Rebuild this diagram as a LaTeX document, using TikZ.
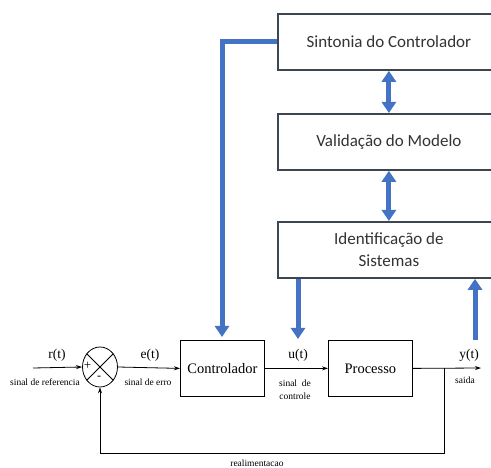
\documentclass[tikz,border=0pt]{standalone}
\usepackage{fontspec}
\setmainfont{Liberation Serif}
\newfontfamily\boxfont{Carlito}
\usetikzlibrary{arrows.meta,shapes.geometric}
\definecolor{officeblue}{HTML}{4472C4}
\definecolor{boxedge}{HTML}{3B4651}
\definecolor{boxtext}{HTML}{333333}
\begin{document}
\begin{tikzpicture}[x=1pt,y=-1pt,
  topbox/.style={draw=boxedge,line width=1.8pt,fill=white,rectangle,anchor=north west,
    minimum width=222pt,minimum height=56pt,inner sep=0pt,align=center,
    font=\boxfont\fontsize{17}{21}\selectfont,text=boxtext},
  blueline/.style={draw=officeblue,line width=5pt},
  bluetip/.style={blueline,-{Triangle[width=14pt,length=11pt]}},
  bluedouble/.style={blueline,{Triangle[width=14pt,length=11pt]}-{Triangle[width=14pt,length=11pt]}},
  blockbox/.style={draw,line width=0.8pt,rectangle,anchor=north west,inner sep=0pt,
    minimum width=84pt,minimum height=56pt,font=\fontsize{14.5}{17}\selectfont},
  sig/.style={line width=0.8pt,-{Stealth[length=6pt,width=4pt]}},
  wire/.style={line width=0.8pt},
  lbl/.style={font=\fontsize{13.5}{16}\selectfont,inner sep=0pt},
  note/.style={font=\fontsize{9.5}{11}\selectfont,inner sep=0pt,align=center}
]
\useasboundingbox (0,0) rectangle (491,468);
\clip (0,0) rectangle (491,468);

% upper chain of tasks
\node[topbox] (sint) at (277,13) {Sintonia do Controlador};
\node[topbox] (val) at (277,113) {Validação do Modelo};
\node[topbox] (ident) at (277,221) {Identificação de\\[1pt]Sistemas};

\draw[bluedouble] (sint.south) -- (val.north);
\draw[bluedouble] (val.south) -- (ident.north);

% loop blocks
\node[blockbox] (ctrl) at (180,340) {Controlador};
\node[blockbox] (proc) at (328,340) {Processo};

% summing junction
\node[draw,line width=0.8pt,ellipse,minimum width=35pt,minimum height=40pt,inner sep=0pt] (sum) at (100,367) {};
\draw[wire] (sum.135) -- (sum.-45);
\draw[wire] (sum.45) -- (sum.-135);
\node[font=\fontsize{13}{15}\selectfont,inner sep=0pt] (plus) at (87.5,366) {+};
\node[font=\fontsize{12}{14}\selectfont,inner sep=0pt] (minus) at (99,378) {-};

% signals
\coordinate (rin) at (33,368);
\coordinate (yout) at (481,368);
\coordinate (tap) at (444,368);
\coordinate (fbl) at (100,453);
\draw[sig] (rin) -- (sum.west);
\draw[sig] (sum.east) -- (ctrl.west);
\draw[sig] (ctrl.east) -- (proc.west);
\draw[sig] (proc.east) -- (yout);
\draw[wire] (tap) |- (fbl);
\draw[sig] (fbl) -- (sum.south);

% signal labels
\node[lbl] (rlbl) at (57,355) {r(t)};
\node[lbl] (elbl) at (150,355) {e(t)};
\node[lbl] (ulbl) at (298,355) {u(t)};
\node[lbl] (ylbl) at (469,355) {y(t)};
\node[note] (rnote) at (45,382) {sinal de referencia};
\node[note] (enote) at (148,382) {sinal de erro};
\node[note] (unote) at (295,390) {sinal\enspace de\\[2pt]controle};
\node[note] (ynote) at (465,380) {saida};
\node[note] (fbnote) at (257,463) {realimentacao};

% identification and tuning links
\coordinate (ctrlin) at (222,337);
\coordinate (uin) at (298,339);
\coordinate (yup) at (475,340);
\draw[blueline,-{Triangle[width=14pt,length=11pt]}] (sint.west) -| (ctrlin);
\draw[bluetip] (ident.south -| uin) -- (uin);
\draw[bluetip] (yup) -- (ident.south -| yup);
\end{tikzpicture}
\end{document}
